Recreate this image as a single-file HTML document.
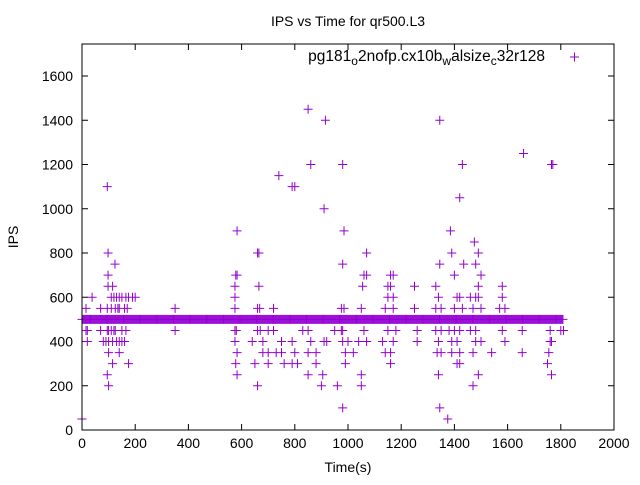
<!DOCTYPE html>
<html><head><meta charset="utf-8"><style>
body{margin:0;background:#fff}
svg{font-family:"Liberation Sans",sans-serif}
</style></head><body>
<svg id="c" width="640" height="480" xmlns="http://www.w3.org/2000/svg">
<rect width="640" height="480" fill="#fff"/>
<text x="348" y="26" font-size="14" text-anchor="middle">IPS vs Time for qr500.L3</text>
<text transform="translate(18,237) rotate(-90)" font-size="14" text-anchor="middle">IPS</text>
<text x="348" y="472" font-size="14" text-anchor="middle">Time(s)</text>
<g id="ticks"></g>
<g id="pts"></g>
<rect x="82" y="44" width="532" height="386" fill="none" stroke="#000"/>
<g>
<text x="545" y="61" font-size="15.5" text-anchor="end">pg181<tspan font-size="12" dy="4">o</tspan><tspan dy="-4">2nofp.cx10b</tspan><tspan font-size="12" dy="4">w</tspan><tspan dy="-4">alsize</tspan><tspan font-size="12" dy="4">c</tspan><tspan dy="-4">32r128</tspan></text>
<path d="M570,57h9M574.5,52.5v9" stroke="#9400d3"/>
</g>
</svg>
<script>
const xTicks=[0,200,400,600,800,1000,1200,1400,1600,1800,2000];
const yTicks=[0,200,400,600,800,1000,1200,1400,1600];
const baseValue=500;
const baseEnd=1810;
const outX=[0,38,95,98,124,98,98,115,110,120,130,140,150,165,175,190,200,15,70,95,110,125,135,140,160,170,350,15,20,70,95,100,110,120,125,150,165,350,20,80,90,100,115,130,140,150,160,100,140,115,175,95,100,
583,578,583,575,575,575,575,580,575,583,578,583,
660,665,665,660,668,660,670,640,680,680,700,650,700,660,
720,700,720,750,730,750,760,740,790,800,790,800,790,810,830,850,860,850,880,850,850,860,910,915,880,900,905,910,920,950,
980,985,980,975,985,975,980,980,1000,990,1020,990,960,980,1060,1070,1070,1055,1050,1060,1040,1070,1050,1050,
1150,1160,1160,1170,1150,1170,1140,1170,1150,1180,1130,1170,1140,1160,1160,
1250,1250,1260,1260,1330,1340,1345,1345,1345,1340,1330,1350,1340,1335,1350,1330,1350,
1375,1385,1390,1400,1410,1420,1400,1430,1380,1400,1420,1390,1410,1390,1420,1410,1420,1430,1420,1435,
1475,1490,1480,1500,1490,1460,1480,1490,1470,1500,1460,1480,1480,1500,1470,1490,1470,
1580,1580,1570,1590,1580,1590,1540,1660,1655,1655,1765,1770,1760,1800,1810,1760,1765,1755,1750,1765];
const outY=[50,600,1100,800,750,700,650,650,600,600,600,600,600,600,600,600,600,550,550,550,550,550,550,550,550,550,550,450,450,450,450,450,450,450,450,450,450,450,400,400,400,400,400,400,400,400,400,350,350,300,300,250,200,
900,700,700,650,600,550,450,450,400,350,300,250,
800,800,650,550,550,450,450,400,400,350,350,300,300,200,
550,450,450,400,350,350,300,1150,1100,1100,400,350,300,300,450,450,400,350,350,250,1450,1200,1000,1400,300,200,250,400,400,450,
1200,900,750,550,550,450,450,400,400,350,350,300,200,100,700,700,800,650,550,450,400,400,250,200,
650,650,700,700,600,600,550,550,450,450,400,400,350,350,300,
650,550,450,400,650,600,750,1400,100,250,450,450,400,350,350,550,550,
50,900,800,700,600,600,550,550,450,450,450,400,400,350,350,300,300,1200,1050,750,
850,800,750,700,650,600,600,600,550,550,450,450,400,400,350,250,200,
650,600,550,550,450,400,350,1250,450,350,1200,1200,450,450,450,400,400,350,300,250];
const X0=82,X1=614,Y0=430,Y1=76;
function sx(v){return X0+(v-0)*(X1-X0)/2000;}
function sy(v){return Y0-(v-0)*(Y0-Y1)/1600;}
const NS="http://www.w3.org/2000/svg";
const tg=document.getElementById('ticks');
xTicks.forEach(t=>{
 const p=document.createElementNS(NS,'path');
 p.setAttribute('d',`M${sx(t)},430v-6M${sx(t)},44v6`);p.setAttribute('stroke','#000');
 
 
 tg.appendChild(p);
 const tx=document.createElementNS(NS,'text');
 tx.setAttribute('x',sx(t));tx.setAttribute('y',448);tx.setAttribute('font-size','14');tx.setAttribute('text-anchor','middle');tx.textContent=t;
 
 
 tg.appendChild(tx);
});
yTicks.forEach(t=>{
 const p=document.createElementNS(NS,'path');
 p.setAttribute('d',`M82,${sy(t)}h6M614,${sy(t)}h-6`);p.setAttribute('stroke','#000');
 
 
 tg.appendChild(p);
 const tx=document.createElementNS(NS,'text');
 tx.setAttribute('x',73);tx.setAttribute('y',sy(t)+5);tx.setAttribute('font-size','14');tx.setAttribute('text-anchor','end');tx.textContent=t;
 
 
 tg.appendChild(tx);
});
const pg=document.getElementById('pts');
let d='';
for(let t=0;t<=baseEnd;t+=4){const x=sx(t),y=sy(baseValue);d+=`M${x-4.5},${y}h9M${x},${y-4.5}v9`;}
for(let i=0;i<outX.length;i++){const x=sx(outX[i]),y=sy(outY[i]);d+=`M${x-4.5},${y}h9M${x},${y-4.5}v9`;}
const path=document.createElementNS(NS,'path');
path.setAttribute('d',d);path.setAttribute('stroke','#9400d3');path.setAttribute('fill','none');


pg.appendChild(path);
</script>
</body></html>
